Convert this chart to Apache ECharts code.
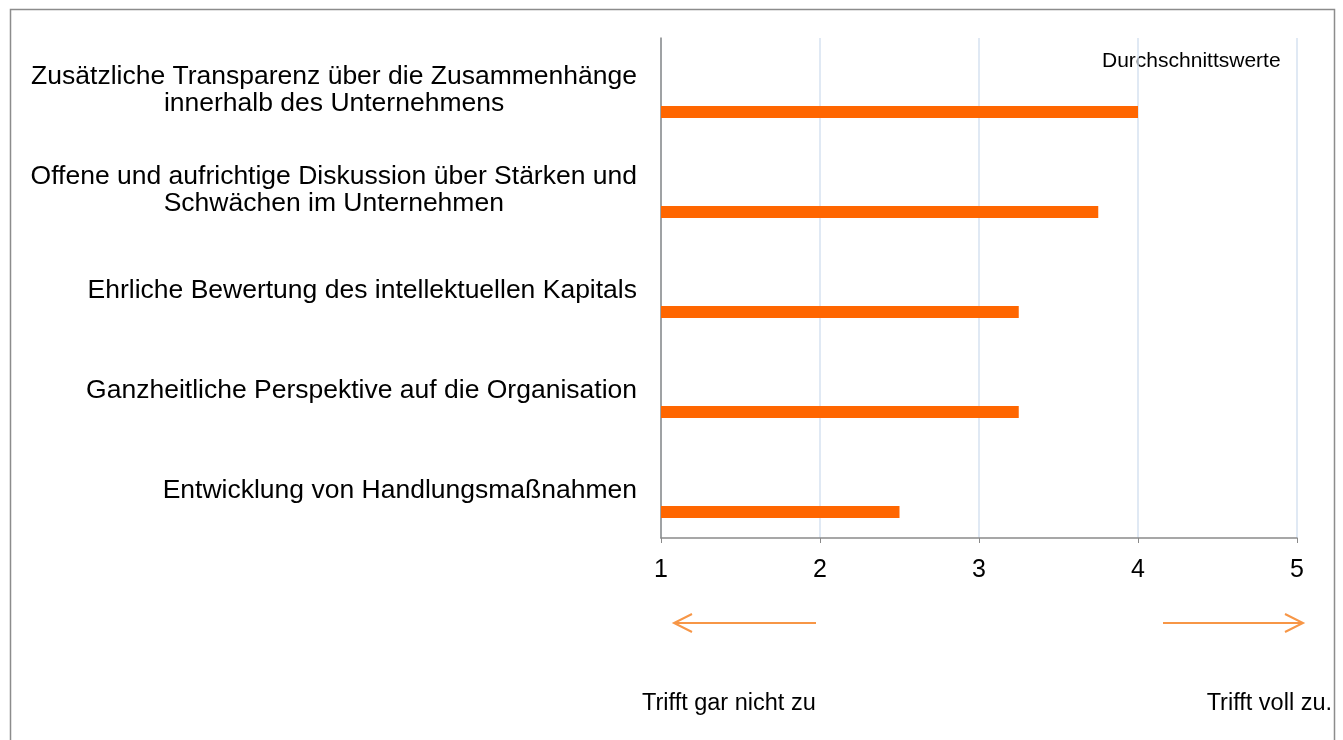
<!DOCTYPE html>
<html>
<head>
<meta charset="utf-8">
<script src="https://cdn.jsdelivr.net/npm/echarts@6/dist/echarts.min.js"></script>
<style>
html,body{margin:0;padding:0;background:#fff;}
#chart{width:1343px;height:740px;}
</style>
</head>
<body>
<div id="chart"></div>
<script>
const categories = [
  'Zusätzliche Transparenz über die Zusammenhänge\ninnerhalb des Unternehmens',
  'Offene und aufrichtige Diskussion über Stärken und\nSchwächen im Unternehmen',
  'Ehrliche Bewertung des intellektuellen Kapitals',
  'Ganzheitliche Perspektive auf die Organisation',
  'Entwicklung von Handlungsmaßnahmen'
];
const averages = [4.0, 3.75, 3.25, 3.25, 2.5];
const spacer = [null, null, null, null, null];
const xTicks = [1, 2, 3, 4, 5];

const FONT = '"Liberation Sans", Arial, sans-serif';
const chart = echarts.init(document.getElementById('chart'), null, {renderer: 'canvas'});

chart.setOption({
  backgroundColor: '#ffffff',
  animation: false,
  grid: {left: 661, right: 46, top: 38, bottom: 202, containLabel: false},
  xAxis: {
    type: 'value',
    min: xTicks[0],
    max: xTicks[xTicks.length - 1],
    interval: 1,
    axisLine: {show: true, lineStyle: {color: '#8a8a8a', width: 1.5}},
    axisTick: {show: true, length: 5, lineStyle: {color: '#8a8a8a', width: 1}},
    axisLabel: {color: '#000', fontFamily: FONT, fontSize: 25, margin: 20},
    splitLine: {show: true, lineStyle: {color: '#d6e2f0', width: 1.5}}
  },
  yAxis: {
    type: 'category',
    inverse: true,
    data: categories,
    axisLine: {show: true, lineStyle: {color: '#8a8a8a', width: 1.5}},
    axisTick: {show: false},
    splitLine: {show: false},
    axisLabel: {
      margin: 24,
      align: 'right',
      padding: [5, 0, 0, 0],
      formatter: function (v) {
        return v.split('\n').map(function (l) { return '{c|' + l + '}'; }).join('\n');
      },
      rich: {
        c: {align: 'center', fontFamily: FONT, fontSize: 26.5, lineHeight: 27, color: '#000'}
      }
    }
  },
  series: [
    {
      type: 'bar',
      name: 'spacer',
      data: spacer,
      barWidth: 12,
      barGap: '300%',
      silent: true
    },
    {
      type: 'bar',
      name: 'Durchschnittswerte',
      data: averages,
      barWidth: 12,
      barGap: '300%',
      itemStyle: {color: '#ff6600'}
    }
  ],
  graphic: [
    {
      type: 'rect', silent: true, z: 100,
      shape: {x: 10.5, y: 9.5, width: 1324, height: 780},
      style: {fill: 'none', stroke: '#8c8c8c', lineWidth: 1.5}
    },
    {
      type: 'text', left: 1102, top: 51,
      style: {text: 'Durchschnittswerte', font: '21px ' + FONT, fill: '#000'}
    },
    {
      type: 'group',
      children: [
        {type: 'line', shape: {x1: 674, y1: 623, x2: 816, y2: 623}, style: {stroke: '#f79646', lineWidth: 2}},
        {type: 'polyline', shape: {points: [[692, 614], [674, 623], [692, 632]]}, style: {stroke: '#f79646', lineWidth: 2, fill: 'none'}},
        {type: 'line', shape: {x1: 1163, y1: 623, x2: 1303, y2: 623}, style: {stroke: '#f79646', lineWidth: 2}},
        {type: 'polyline', shape: {points: [[1285, 614], [1303, 623], [1285, 632]]}, style: {stroke: '#f79646', lineWidth: 2, fill: 'none'}}
      ]
    },
    {
      type: 'text', left: 642, top: 692,
      style: {text: 'Trifft gar nicht zu', font: '23.5px ' + FONT, fill: '#000'}
    },
    {
      type: 'text', right: 11, top: 692,
      style: {text: 'Trifft voll zu.', font: '23.5px ' + FONT, fill: '#000'}
    }
  ]
});
</script>
</body>
</html>
